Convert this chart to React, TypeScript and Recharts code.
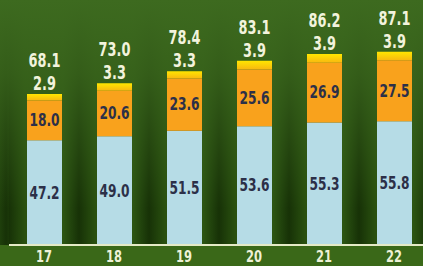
import { BarChart, Bar, XAxis, YAxis, LabelList } from "recharts";

const years = ["17", "18", "19", "20", "21", "22"];
const base = [47.2, 49.0, 51.5, 53.6, 55.3, 55.8];
const middle = [18.0, 20.6, 23.6, 25.6, 26.9, 27.5];
const top = [2.9, 3.3, 3.3, 3.9, 3.9, 3.9];
const totals = [68.1, 73.0, 78.4, 83.1, 86.2, 87.1];

const data = years.map((y, i) => ({
  year: y,
  base: base[i],
  middle: middle[i],
  top: top[i],
  total: totals[i],
}));

const FONT = "'DejaVu Sans', sans-serif";
const fmt = (v: any) => Number(v).toFixed(1);

// narrow text: DejaVu bold squeezed horizontally
function narrowLabel(color: string, mode: "center" | "top", offset = 0, size = 18) {
  return (p: any) => {
    const vb = p.viewBox || p;
    const cx = vb.x + vb.width / 2;
    const y = mode === "center" ? vb.y + vb.height / 2 : vb.y - offset;
    return (
      <text
        transform={`translate(${cx},${y}) scale(0.68,1)`}
        textAnchor="middle"
        dominantBaseline={mode === "center" ? "central" : "auto"}
        fill={color}
        fontSize={size}
        fontWeight={700}
        fontFamily={FONT}
      >
        {fmt(p.value)}
      </text>
    );
  };
}

const NarrowTick = (p: any) => (
  <text
    transform={`translate(${p.x},${p.y + 5}) scale(0.72,1)`}
    textAnchor="middle"
    dominantBaseline="central"
    fill="#eef1d6"
    fontSize={16}
    fontWeight={700}
    fontFamily={FONT}
  >
    {p.payload.value}
  </text>
);

export default function App() {
  return (
    <div style={{ position: "absolute", left: 0, top: 0, width: 423, height: 266, background: "#3a6818" }}>
      <div
        style={{
          position: "absolute",
          left: 0,
          top: 0,
          width: 423,
          height: 245,
          background:
            "linear-gradient(to bottom, rgba(61,106,31,1) 0%, rgba(57,100,28,0.85) 30%, rgba(40,78,16,0) 85%), repeating-linear-gradient(to right, #173207 0px, #29500f 16px, #2c5513 54px, #173207 70px)",
          backgroundPosition: "0 0, 9px 0",
        }}
      />
      <svg width={0} height={0} style={{ position: "absolute" }}>
        <defs>
          <linearGradient id="yel" x1="0" y1="0" x2="0" y2="1">
            <stop offset="0%" stopColor="#ffe600" />
            <stop offset="100%" stopColor="#f8b810" />
          </linearGradient>
        </defs>
      </svg>
      <div style={{ position: "absolute", left: 0, top: 0 }}>
        <BarChart
          width={423}
          height={266}
          data={data}
          margin={{ top: 0, right: -6, left: 9, bottom: 0 }}
          barCategoryGap={35}
        >
          <YAxis hide domain={[0, 110.5]} />
          <XAxis
            dataKey="year"
            height={21}
            axisLine={{ stroke: "#e4eac6", strokeWidth: 2 }}
            tickLine={false}
            tick={NarrowTick}
            tickMargin={0}
          />
          <Bar dataKey="base" stackId="a" fill="#b6dce6" barSize={35} isAnimationActive={false}>
            <LabelList dataKey="base" content={narrowLabel("#2c3048", "center")} />
          </Bar>
          <Bar dataKey="middle" stackId="a" fill="#f9a21c" barSize={35} isAnimationActive={false}>
            <LabelList dataKey="middle" content={narrowLabel("#2c3048", "center")} />
          </Bar>
          <Bar dataKey="top" stackId="a" fill="url(#yel)" barSize={35} isAnimationActive={false}>
            <LabelList dataKey="top" content={narrowLabel("#f2f3dc", "top", 4, 19)} />
            <LabelList dataKey="total" content={narrowLabel("#f2f3dc", "top", 27, 19)} />
          </Bar>
        </BarChart>
      </div>
    </div>
  );
}
